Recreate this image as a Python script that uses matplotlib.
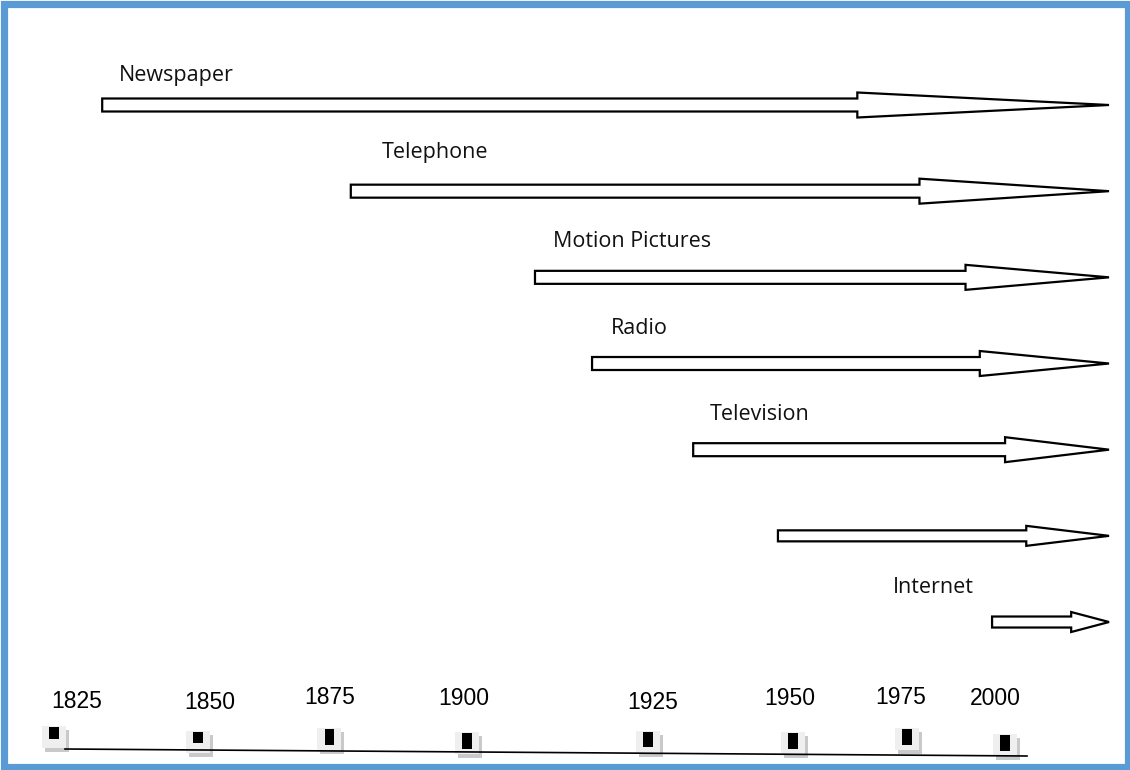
import matplotlib.pyplot as plt
from matplotlib.patches import Rectangle

# media timeline: year each medium starts, all run to the right edge
media = ['Newspaper', 'Telephone', 'Motion Pictures', 'Radio', 'Television', '', 'Internet']
start_year = [1833, 1877, 1909.6, 1919.7, 1937.6, 1952.6, 1990.5]
end_year = 2011.2

# timeline ticks along the bottom
tick_years = [1825, 1850, 1875, 1900, 1925, 1950, 1975, 2000]

# layout, in pixels of the 1130x770 picture
label_left_px = [119, 382, 553, 611, 710, None, 893]
label_base_px = [81, 158, 247, 334, 420, None, 593]
tick_label_px = [77, 210, 330, 464, 653, 790, 900.5, 995.5]
tick_base_px = [708, 709, 704, 705, 709, 705, 704, 705]
marker_px = [54, 198.5, 329.5, 467, 648, 793, 907, 1005]
marker_top_px = [727, 732, 729, 733, 732, 733, 729, 735]
marker_h_px = [12, 11, 16, 16, 15, 16, 16, 16]

W, H = 1130, 770
X0 = 1825 - 57 / 5.65
X1 = 1825 + (W - 57) / 5.65
ROW = 86.17
Y0 = -105 / ROW
Y1 = (H - 105) / ROW
PXX = (X1 - X0) / W
PXY = (Y1 - Y0) / H


def xpx(p):
    return X0 + p * PXX


def ypx(p):
    return Y0 + p * PXY


fig = plt.figure(figsize=(11.3, 7.7), dpi=100)
ax = fig.add_axes([0, 0, 1, 1])
ax.set_xlim(X0, X1)
ax.set_ylim(Y1, Y0)
ax.axis('off')

lab_font = dict(family=['Open Sans', 'DejaVu Sans'], fontsize=15.5, color='#111111')
num_font = dict(family=['Liberation Sans', 'DejaVu Sans'], fontsize=16.5, color='black')

for i, (name, s) in enumerate(zip(media, start_year)):
    L = end_year - s
    big = L * 5.65 > 400
    ax.arrow(s, i, L, 0,
             width=(13 if big else 11) * PXY,
             head_width=(25 if big else 20) * PXY,
             head_length=max(0.25 * L, 6.7),
             length_includes_head=True,
             fc='white', ec='black', lw=1.6, joinstyle='miter')
    if name:
        ax.text(xpx(label_left_px[i]), ypx(label_base_px[i]), name,
                ha='left', va='baseline', **lab_font)

for yr, lx, lb in zip(tick_years, tick_label_px, tick_base_px):
    ax.text(xpx(lx), ypx(lb), str(yr), ha='center', va='baseline', **num_font)

# little tick markers: shadow, light box, black block
for mx, mt, mh in zip(marker_px, marker_top_px, marker_h_px):
    bx = mx - 5
    ax.add_patch(Rectangle((xpx(bx - 4), ypx(mt + 3)), 24 * PXX, 22 * PXY,
                           fc='#c9c9c9', ec='none', zorder=2))
    ax.add_patch(Rectangle((xpx(bx - 7), ypx(mt - 1)), 24 * PXX, 22 * PXY,
                           fc='#efefef', ec='none', zorder=3))
    ax.add_patch(Rectangle((xpx(bx), ypx(mt)), 10 * PXX, mh * PXY,
                           fc='black', ec='none', zorder=4))

ax.plot([xpx(65), xpx(1027)], [ypx(749), ypx(756)], color='black', lw=1.2, zorder=5)

# blue frame
fig.add_artist(Rectangle((4 / W, 3.5 / H), (1127.5 - 4) / W, (766.5 - 3.5) / H,
                         transform=fig.transFigure, fill=False,
                         ec='#5b9bd5', lw=5.2))

fig.savefig('out.png', dpi=100)
